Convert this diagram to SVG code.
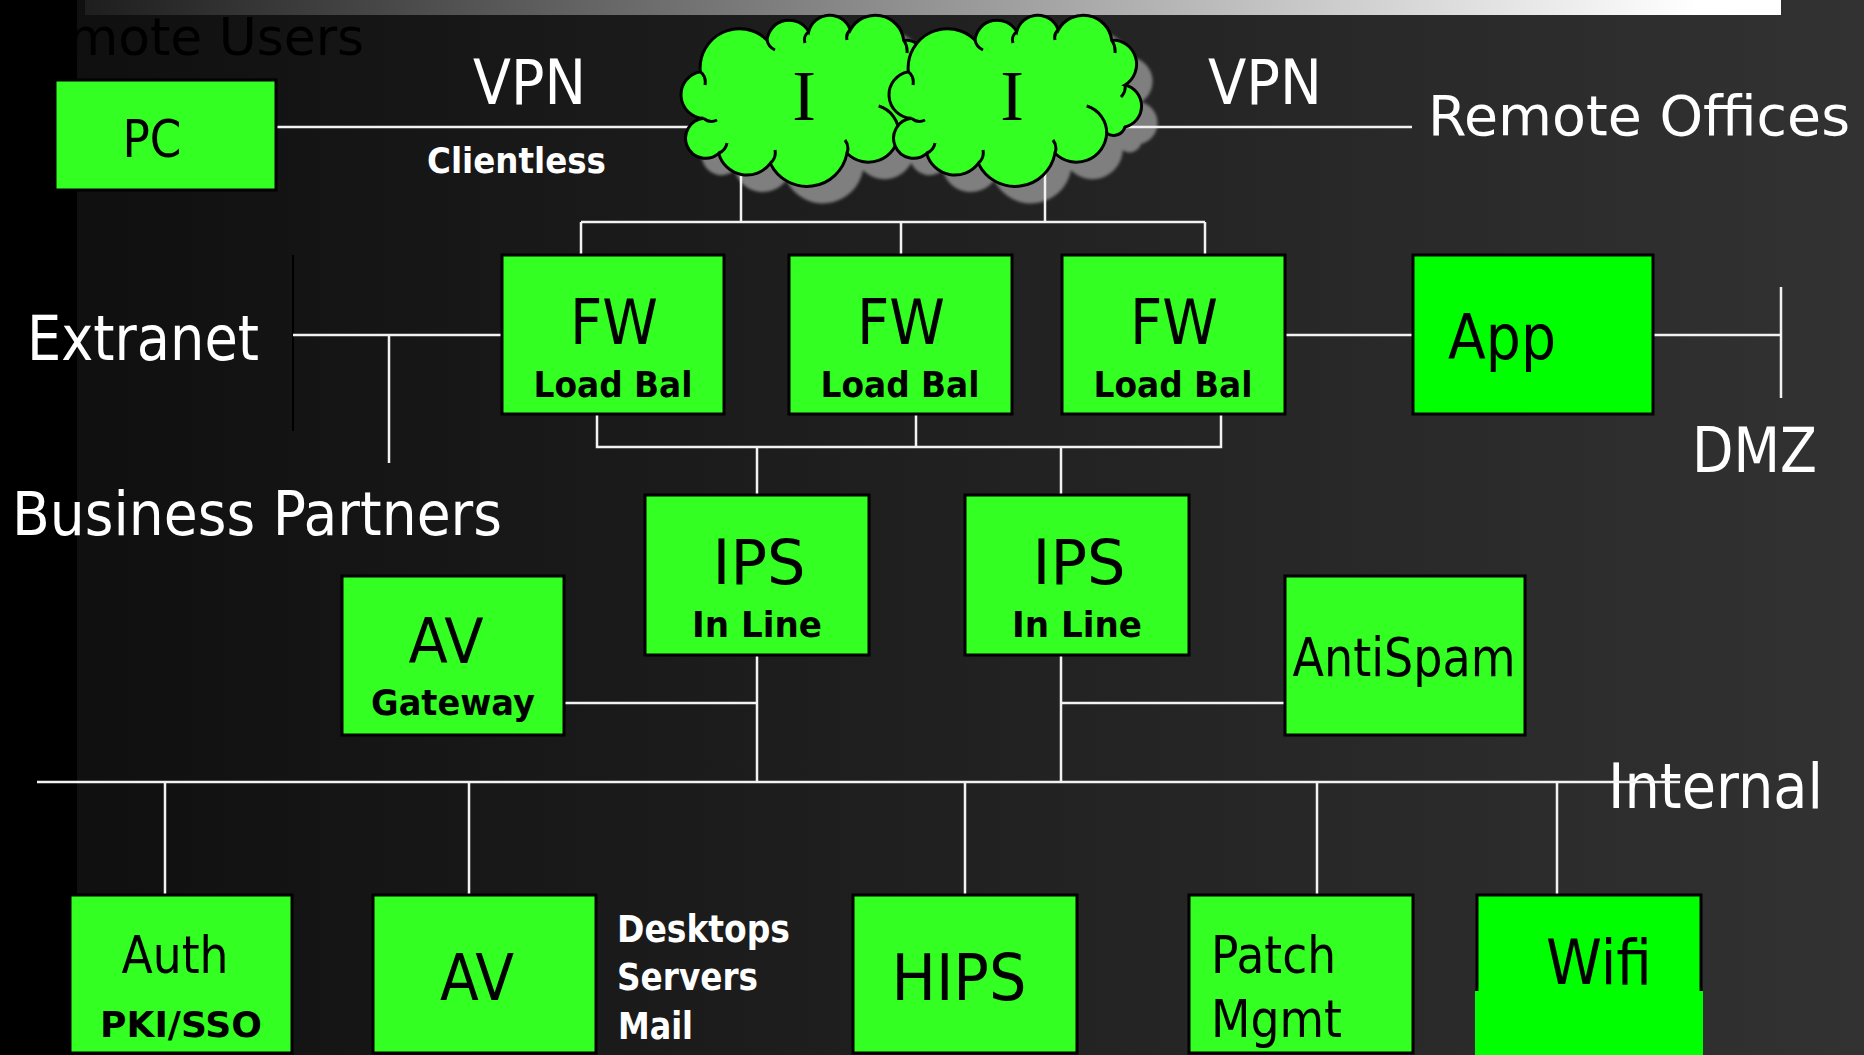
<svg xmlns="http://www.w3.org/2000/svg" width="1864" height="1055" viewBox="0 0 1864 1055">
<defs>
<linearGradient id="bg" x1="0" y1="0" x2="1" y2="0">
<stop offset="0" stop-color="#0e0e0e"/>
<stop offset="1" stop-color="#323232"/>
</linearGradient>
<linearGradient id="bar" x1="0" y1="0" x2="1" y2="0">
<stop offset="0" stop-color="#1e1e1e"/>
<stop offset="0.95" stop-color="#ffffff"/>
<stop offset="1" stop-color="#ffffff"/>
</linearGradient>
<filter id="soft" x="-10%" y="-10%" width="120%" height="120%">
<feGaussianBlur stdDeviation="1.5"/>
</filter>
<path id="cloud" d="M26.7,103.3 A23.5,23.5 0 0 1 23.3,56.7 A39.3,39.3 0 0 1 90,25 A22.3,22.3 0 0 1 131.7,16.7 A21.7,21.7 0 0 1 173.3,15 A28.6,28.6 0 0 1 226.7,25 A24.3,24.3 0 0 1 240,70 A21.6,21.6 0 0 1 240,112 A12,12 0 0 1 221.7,118.3 A30.3,30.3 0 0 1 170,138.3 A40.7,40.7 0 0 1 93.3,148.3 A29.2,29.2 0 0 1 41.7,138.3 A20,20 0 1 1 26.7,103.3 Z"/>
<path id="curl" d="M201.7,91 A28,28 0 0 1 221.7,118.3 M226.7,25 A20,20 0 0 1 230,38 M240,70 A14,14 0 0 1 236,82 M23.3,56.7 A14,14 0 0 1 28,70 M26.7,103.3 A12,12 0 0 0 40,105 M41.7,138.3 A14,14 0 0 0 50,128 M93.3,148.3 A14,14 0 0 0 98,135 M170,138.3 A14,14 0 0 0 168,125 M90,25 A14,14 0 0 0 98,35 M131.7,16.7 A10,10 0 0 0 128,28 M173.3,15 A10,10 0 0 0 170,25"/>
</defs>
<style>
.box{fill:#33ff22;stroke:#000;stroke-width:3}
.box2{fill:#00ff00;stroke:#000;stroke-width:3}
.t{font-family:"DejaVu Sans","Liberation Sans",Verdana,sans-serif;fill:#000}
.w{fill:#fff}
.b{font-weight:bold}
.s{font-family:"Liberation Serif","DejaVu Serif",serif;fill:#000}
.c{stroke:#f2f2f2;stroke-width:2.5;fill:none}
.k{stroke:#000;stroke-width:2;fill:none}
.cl{fill:#33ff22;stroke:#000;stroke-width:3}
.cu{fill:none;stroke:#000;stroke-width:3}
.sh{fill:#7f7f7f}
</style>
<g id="background">
<rect x="0" y="0" width="1864" height="1055" fill="url(#bg)"/>
<rect x="0" y="0" width="77" height="1055" fill="#000"/>
<rect x="85" y="0" width="1696" height="15" fill="url(#bar)"/>
<g filter="url(#soft)">
<use href="#cloud" class="sh" transform="translate(693,32)"/>
<use href="#cloud" class="sh" transform="translate(901,32)"/>
</g>
</g>
<g id="labels">
<text class="t" x="2" y="55" font-size="52" textLength="362" lengthAdjust="spacingAndGlyphs">Remote Users</text>
<text class="t w" x="473" y="104" font-size="63" textLength="113" lengthAdjust="spacingAndGlyphs">VPN</text>
<text class="t w b" x="427" y="173" font-size="36" textLength="179" lengthAdjust="spacingAndGlyphs">Clientless</text>
<text class="t w" x="1208" y="104" font-size="63" textLength="114" lengthAdjust="spacingAndGlyphs">VPN</text>
<text class="t w" x="1428" y="135" font-size="56" textLength="422" lengthAdjust="spacingAndGlyphs">Remote Offices</text>
<text class="t w" x="27" y="360" font-size="62" textLength="232" lengthAdjust="spacingAndGlyphs">Extranet</text>
<text class="t w" x="12" y="535" font-size="61" textLength="490" lengthAdjust="spacingAndGlyphs">Business Partners</text>
<text class="t w" x="1692" y="472" font-size="62" textLength="125" lengthAdjust="spacingAndGlyphs">DMZ</text>
<text class="t w" x="1608" y="808" font-size="63" textLength="215" lengthAdjust="spacingAndGlyphs">Internal</text>
<text class="t w b" x="617" y="942" font-size="37" textLength="173" lengthAdjust="spacingAndGlyphs">Desktops</text>
<text class="t w b" x="617" y="990" font-size="37" textLength="141" lengthAdjust="spacingAndGlyphs">Servers</text>
<text class="t w b" x="618" y="1039" font-size="37" textLength="75" lengthAdjust="spacingAndGlyphs">Mail</text>
</g>
<g id="connectors">
<path class="c" d="M276,127 H700"/>
<path class="c" d="M1100,127 H1412"/>
<path class="c" d="M741,150 V222 M1045,150 V222 M581,222 H1205 M581,222 V255 M901,222 V255 M1205,222 V255"/>
<path class="k" d="M293,255 V431"/>
<path class="c" d="M293,335 H502 M389,335 V463"/>
<path class="c" d="M1285,335 H1413 M1653,335 H1781 M1781,287 V398"/>
<path class="c" d="M597,414 V447 H1221 V414 M916,414 V447 M757,447 V495 M1061,447 V495"/>
<path class="c" d="M564,703 H757 M757,655 V782 M1061,655 V782 M1061,703 H1285"/>
<path class="c" d="M37,782 H1680"/>
<path class="c" d="M165,782 V895 M469,782 V895 M965,782 V895 M1317,782 V895 M1557,782 V895"/>
</g>
<g id="pc">
<rect class="box" x="55" y="80" width="221" height="110"/>
<text class="t" x="152" y="157" font-size="51" text-anchor="middle" textLength="59" lengthAdjust="spacingAndGlyphs">PC</text>
</g>
<g id="cloud1">
<use href="#cloud" class="cl" transform="translate(677,15)"/>
<use href="#curl" class="cu" transform="translate(677,15)"/>
<text class="s" x="804" y="120" font-size="71" text-anchor="middle">I</text>
</g>
<g id="cloud2">
<use href="#cloud" class="cl" transform="translate(885,15)"/>
<use href="#curl" class="cu" transform="translate(885,15)"/>
<text class="s" x="1012" y="120" font-size="71" text-anchor="middle">I</text>
</g>
<g id="fw1">
<rect class="box" x="502" y="255" width="222" height="159"/>
<text class="t" x="614" y="344" font-size="63" text-anchor="middle" textLength="88" lengthAdjust="spacingAndGlyphs">FW</text>
<text class="t b" x="613" y="397" font-size="36" text-anchor="middle" textLength="159" lengthAdjust="spacingAndGlyphs">Load Bal</text>
</g>
<g id="fw2">
<rect class="box" x="789" y="255" width="223" height="159"/>
<text class="t" x="901" y="344" font-size="63" text-anchor="middle" textLength="88" lengthAdjust="spacingAndGlyphs">FW</text>
<text class="t b" x="900" y="397" font-size="36" text-anchor="middle" textLength="159" lengthAdjust="spacingAndGlyphs">Load Bal</text>
</g>
<g id="fw3">
<rect class="box" x="1062" y="255" width="223" height="159"/>
<text class="t" x="1174" y="344" font-size="63" text-anchor="middle" textLength="88" lengthAdjust="spacingAndGlyphs">FW</text>
<text class="t b" x="1173" y="397" font-size="36" text-anchor="middle" textLength="159" lengthAdjust="spacingAndGlyphs">Load Bal</text>
</g>
<g id="app">
<rect class="box2" x="1413" y="255" width="240" height="159"/>
<text class="t" x="1448" y="359" font-size="62" textLength="108" lengthAdjust="spacingAndGlyphs">App</text>
</g>
<g id="ips1">
<rect class="box" x="645" y="495" width="224" height="160"/>
<text class="t" x="759" y="584" font-size="63" text-anchor="middle" textLength="93" lengthAdjust="spacingAndGlyphs">IPS</text>
<text class="t b" x="757" y="637" font-size="36" text-anchor="middle" textLength="130" lengthAdjust="spacingAndGlyphs">In Line</text>
</g>
<g id="ips2">
<rect class="box" x="965" y="495" width="224" height="160"/>
<text class="t" x="1079" y="584" font-size="63" text-anchor="middle" textLength="93" lengthAdjust="spacingAndGlyphs">IPS</text>
<text class="t b" x="1077" y="637" font-size="36" text-anchor="middle" textLength="130" lengthAdjust="spacingAndGlyphs">In Line</text>
</g>
<g id="av-gateway">
<rect class="box" x="342" y="576" width="222" height="159"/>
<text class="t" x="446" y="663" font-size="63" text-anchor="middle" textLength="75" lengthAdjust="spacingAndGlyphs">AV</text>
<text class="t b" x="453" y="715" font-size="36" text-anchor="middle" textLength="164" lengthAdjust="spacingAndGlyphs">Gateway</text>
</g>
<g id="antispam">
<rect class="box" x="1285" y="576" width="240" height="159"/>
<text class="t" x="1404" y="676" font-size="53" text-anchor="middle" textLength="223" lengthAdjust="spacingAndGlyphs">AntiSpam</text>
</g>
<g id="auth">
<rect class="box" x="70" y="895" width="222" height="158"/>
<text class="t" x="175" y="973" font-size="52" text-anchor="middle" textLength="107" lengthAdjust="spacingAndGlyphs">Auth</text>
<text class="t b" x="181" y="1037" font-size="35" text-anchor="middle" textLength="162" lengthAdjust="spacingAndGlyphs">PKI/SSO</text>
</g>
<g id="av">
<rect class="box" x="373" y="895" width="223" height="158"/>
<text class="t" x="477" y="1000" font-size="64" text-anchor="middle" textLength="74" lengthAdjust="spacingAndGlyphs">AV</text>
</g>
<g id="hips">
<rect class="box" x="853" y="895" width="224" height="158"/>
<text class="t" x="959" y="1000" font-size="64" text-anchor="middle" textLength="135" lengthAdjust="spacingAndGlyphs">HIPS</text>
</g>
<g id="patch-mgmt">
<rect class="box" x="1189" y="895" width="224" height="158"/>
<text class="t" x="1211" y="973" font-size="52" textLength="125" lengthAdjust="spacingAndGlyphs">Patch</text>
<text class="t" x="1211" y="1037" font-size="52" textLength="131" lengthAdjust="spacingAndGlyphs">Mgmt</text>
</g>
<g id="wifi">
<rect class="box2" x="1477" y="895" width="224" height="160"/>
<rect x="1475" y="991" width="228" height="66" fill="#00ff00"/>
<text class="t" x="1546" y="984" font-size="63" textLength="106" lengthAdjust="spacingAndGlyphs">Wifi</text>
</g>
</svg>
